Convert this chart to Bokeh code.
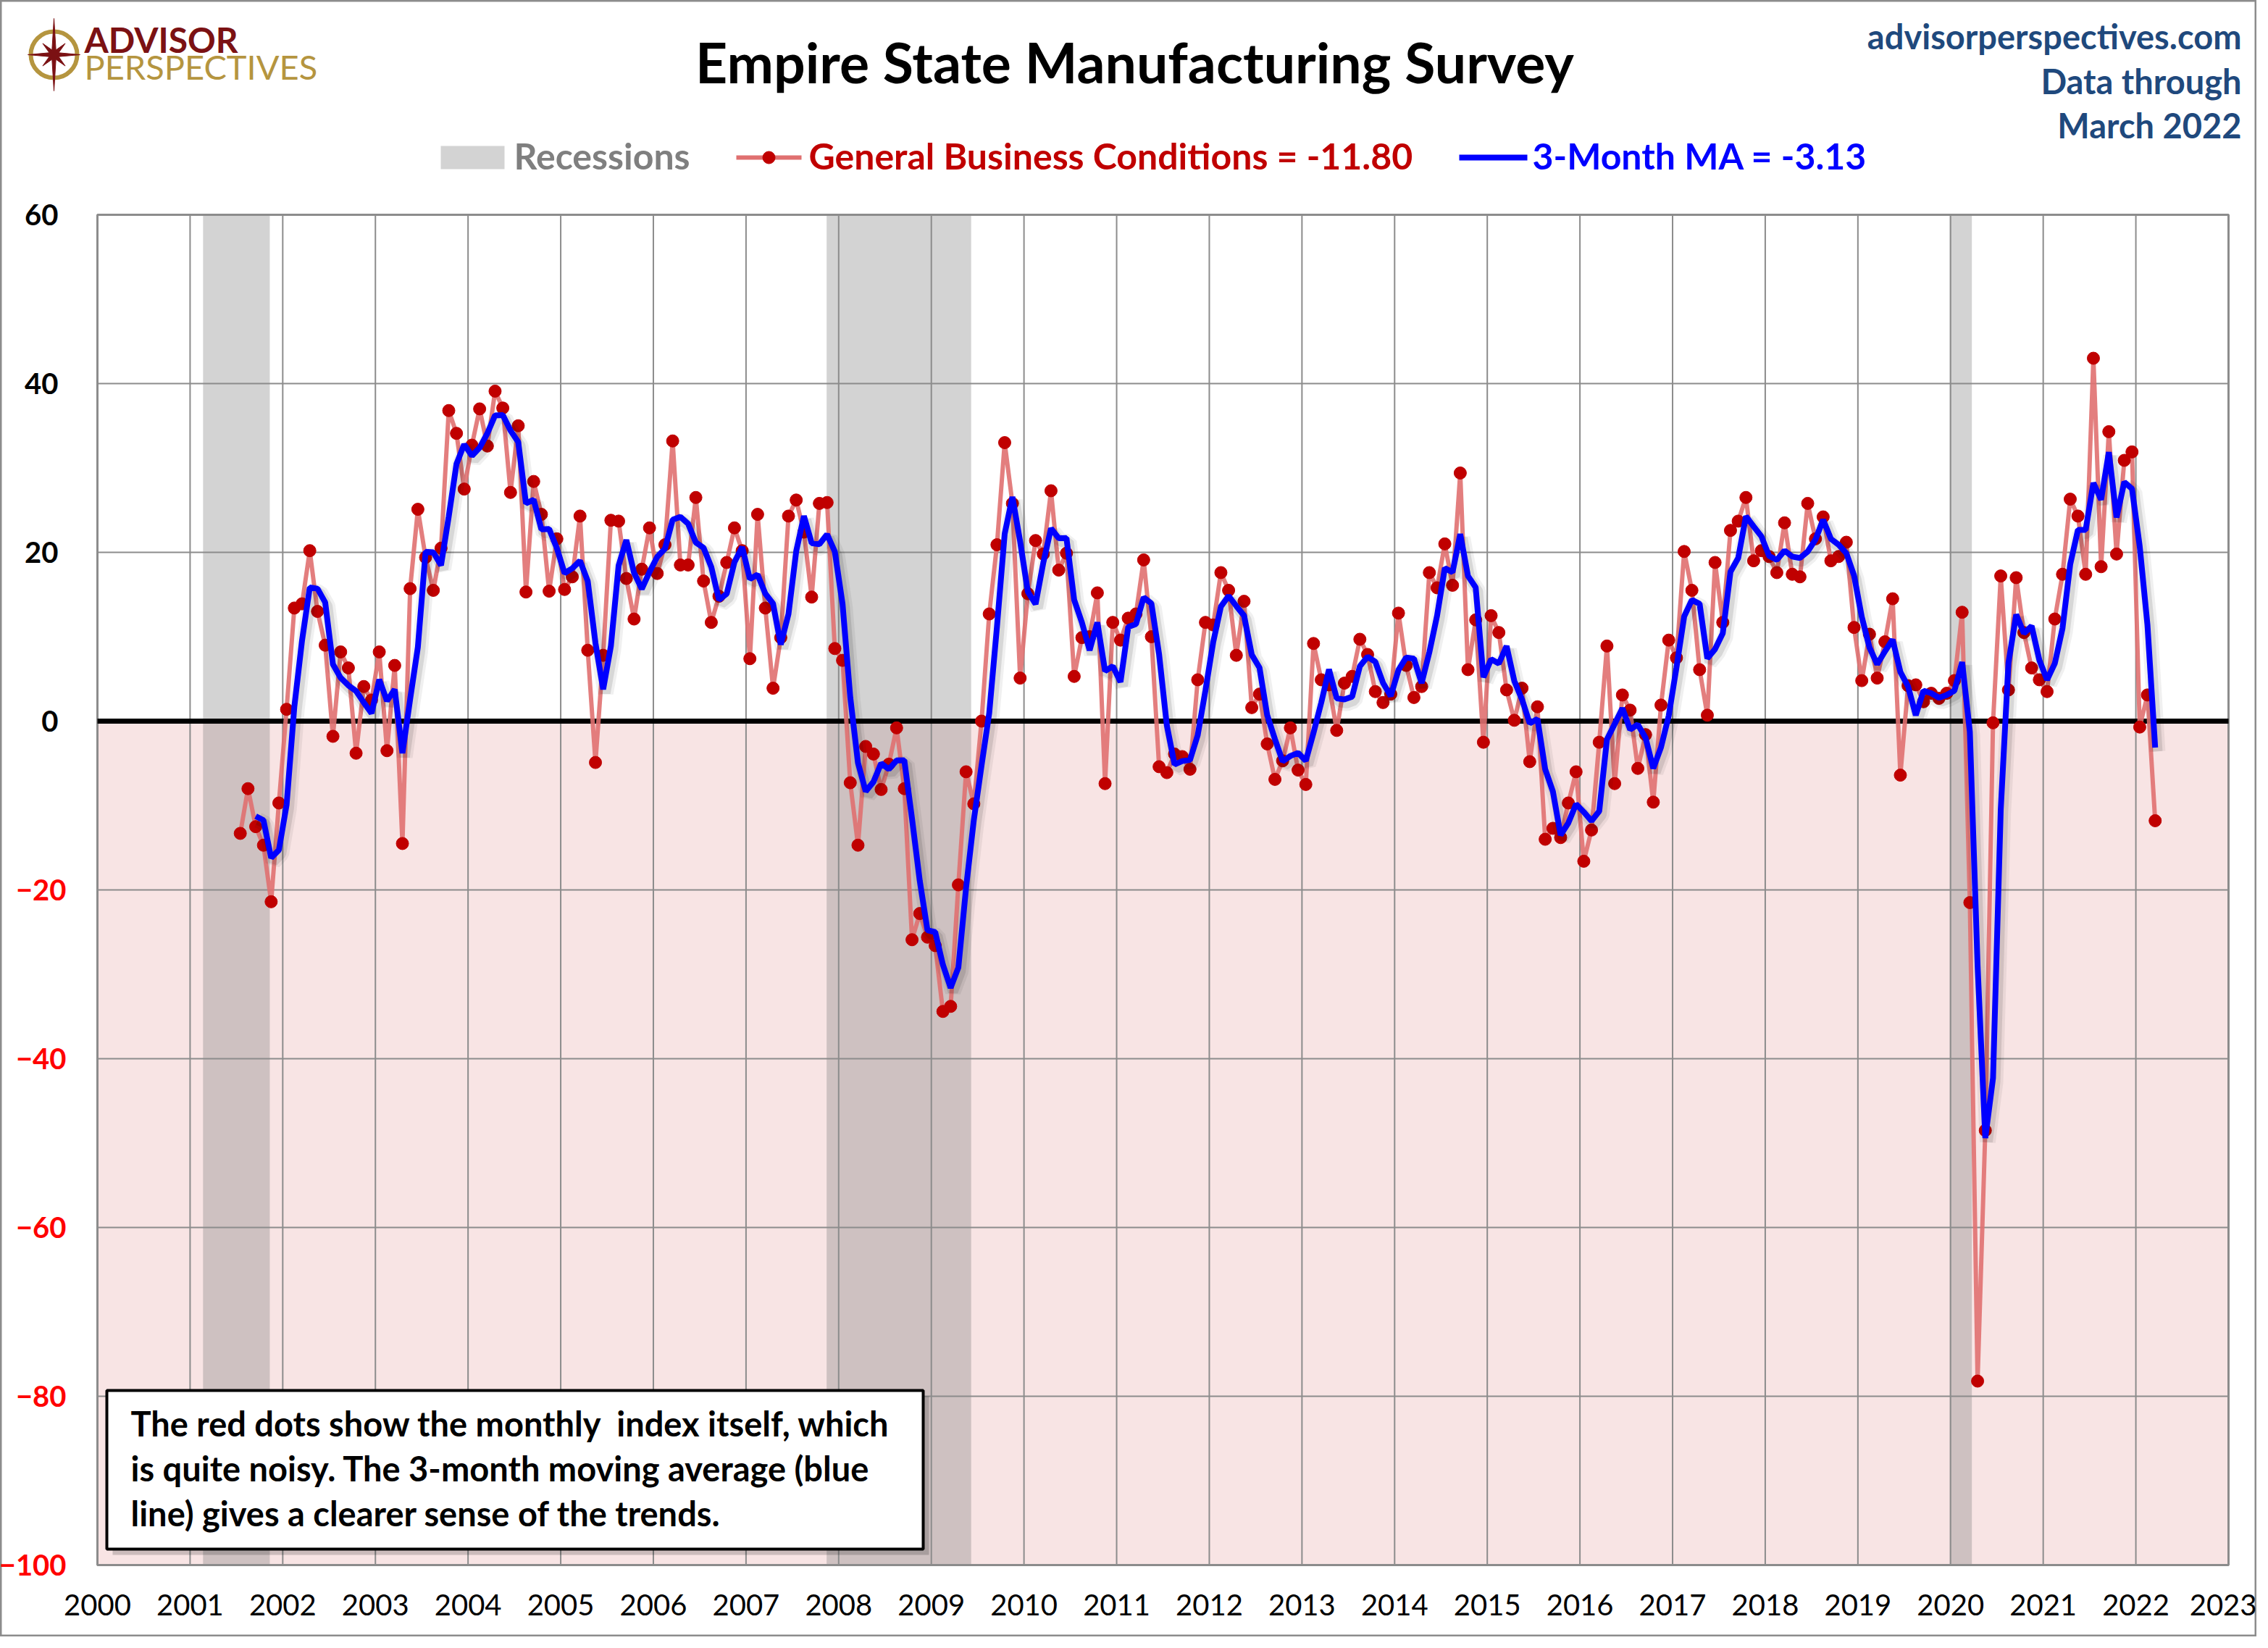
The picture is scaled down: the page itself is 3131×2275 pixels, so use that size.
import numpy as np
import pandas as pd

from bokeh.core.properties import value
from bokeh.embed import file_html
from bokeh.models import ColumnDataSource, FixedTicker, LinearAxis, Range1d
from bokeh.plotting import figure
from bokeh.resources import INLINE
from bokeh.transform import dodge

FONT = "Lato"

# Empire State General Business Conditions, monthly, Jul 2001 - Mar 2022
gbc_2001 = [-13.3, -8.0, -12.5, -14.7, -21.4, -9.7]
gbc_2002 = [1.4, 13.4, 13.9, 20.2, 13.0, 9.0, -1.8, 8.2, 6.3, -3.8, 4.1, 2.5]
gbc_2003 = [8.2, -3.5, 6.6, -14.5, 15.7, 25.1, 19.4, 15.5, 20.5, 36.8, 34.1, 27.5]
gbc_2004 = [32.7, 37.0, 32.6, 39.1, 37.1, 27.1, 35.0, 15.3, 28.4, 24.5, 15.4, 21.6]
gbc_2005 = [15.6, 17.1, 24.3, 8.4, -4.9, 7.8, 23.8, 23.7, 16.9, 12.1, 18.0, 22.9]
gbc_2006 = [17.5, 20.9, 33.2, 18.5, 18.5, 26.5, 16.6, 11.7, 14.8, 18.8, 22.9, 20.2]
gbc_2007 = [7.4, 24.5, 13.4, 3.9, 9.9, 24.3, 26.2, 22.4, 14.7, 25.8, 25.9, 8.6]
gbc_2008 = [7.2, -7.3, -14.7, -3.0, -3.9, -8.1, -5.1, -0.8, -8.0, -25.9, -22.8, -25.6]
gbc_2009 = [-26.6, -34.4, -33.8, -19.4, -6.0, -9.8, 0.0, 12.7, 20.9, 33.0, 25.8, 5.1]
gbc_2010 = [15.1, 21.4, 19.8, 27.3, 17.9, 19.9, 5.3, 9.9, 10.0, 15.2, -7.4, 11.7]
gbc_2011 = [9.6, 12.2, 12.7, 19.1, 10.0, -5.4, -6.1, -3.9, -4.2, -5.7, 4.9, 11.7]
gbc_2012 = [11.4, 17.6, 15.5, 7.8, 14.2, 1.6, 3.2, -2.7, -6.9, -4.7, -0.8, -5.8]
gbc_2013 = [-7.5, 9.2, 4.9, 4.3, -1.1, 4.5, 5.3, 9.7, 7.9, 3.5, 2.2, 3.2]
gbc_2014 = [12.8, 6.6, 2.8, 4.1, 17.6, 15.8, 21.0, 16.1, 29.4, 6.1, 12.0, -2.5]
gbc_2015 = [12.5, 10.5, 3.7, 0.1, 3.9, -4.8, 1.7, -14.0, -12.7, -13.8, -9.7, -6.0]
gbc_2016 = [-16.6, -12.9, -2.5, 8.9, -7.4, 3.1, 1.3, -5.6, -1.6, -9.6, 1.9, 9.6]
gbc_2017 = [7.5, 20.1, 15.5, 6.1, 0.7, 18.8, 11.7, 22.6, 23.7, 26.5, 19.0, 20.2]
gbc_2018 = [19.5, 17.6, 23.5, 17.4, 17.1, 25.8, 21.6, 24.2, 19.0, 19.5, 21.2, 11.1]
gbc_2019 = [4.8, 10.3, 5.1, 9.4, 14.5, -6.4, 4.2, 4.3, 2.3, 3.3, 2.7, 3.3]
gbc_2020 = [4.8, 12.9, -21.5, -78.2, -48.5, -0.2, 17.2, 3.7, 17.0, 10.5, 6.3, 4.9]
gbc_2021 = [3.5, 12.1, 17.4, 26.3, 24.3, 17.4, 43.0, 18.3, 34.3, 19.8, 30.9, 31.9]
gbc_2022 = [-0.7, 3.1, -11.8]

first_month = "2001-07"

# NBER recessions (decimal years, as shaded on the chart)
rec_start = [2001.14, 2007.87, 2019.99]
rec_end = [2001.86, 2009.43, 2020.23]

x_ticks = list(range(2000, 2024))
y_ticks = list(range(-100, 61, 20))

X0, X1, Y0, Y1 = 2000, 2023, -100, 60

# whole picture and the plot area inside it, in pixels
W, H = 3115, 2259
FL, FT, FW, FH = 134, 296, 2942, 1864


def at_x(px):
    return X0 + (np.asarray(px, dtype=float) - FL) / FW * (X1 - X0)


def at_y(py):
    return Y1 - (np.asarray(py, dtype=float) - FT) / FH * (Y1 - Y0)


gbc = (gbc_2001 + gbc_2002 + gbc_2003 + gbc_2004 + gbc_2005 + gbc_2006 + gbc_2007
       + gbc_2008 + gbc_2009 + gbc_2010 + gbc_2011 + gbc_2012 + gbc_2013 + gbc_2014
       + gbc_2015 + gbc_2016 + gbc_2017 + gbc_2018 + gbc_2019 + gbc_2020 + gbc_2021
       + gbc_2022)
months = pd.period_range(first_month, periods=len(gbc), freq="M")
df = pd.DataFrame({
    "x": months.year + (months.month - 0.5) / 12,
    "gbc": gbc,
})
df["ma"] = df["gbc"].rolling(3).mean()
src = ColumnDataSource(df)

# one canvas for the whole picture; the data ranges are stretched so that
# the plot area lands where the original has it
p = figure(
    frame_width=W,
    frame_height=H,
    min_border=0,
    x_range=Range1d(float(at_x(0)), float(at_x(W))),
    y_range=Range1d(float(at_y(H)), float(at_y(0))),
    x_axis_location=None,
    y_axis_location=None,
    toolbar_location=None,
    tools="",
    output_backend="svg",
    background_fill_color="white",
    border_fill_color="white",
    outline_line_color="#8c8c8c",
    outline_line_width=4,
)
p.grid.visible = False

# shading: negative band and recessions
p.quad(left=X0, right=X1, top=0, bottom=Y0, fill_color="#f8e4e4",
       line_color=None, level="image")
p.quad(left=rec_start, right=rec_end, top=Y1, bottom=Y0,
       fill_color="#828282", fill_alpha=0.35, line_color=None, level="image")

# grid, frame and zero line
p.segment(x0=x_ticks, y0=Y0, x1=x_ticks, y1=Y1, line_color="#8c8c8c",
          line_width=2, level="underlay")
p.segment(x0=X0, y0=y_ticks, x1=X1, y1=y_ticks, line_color="#8c8c8c",
          line_width=2, level="underlay")
p.quad(left=X0, right=X1, top=Y1, bottom=Y0, fill_color=None,
       line_color="#8c8c8c", line_width=3, level="underlay")
p.segment(x0=X0, y0=0, x1=X1, y1=0, line_color="black", line_width=7,
          level="underlay")

# data
p.line("x", "gbc", source=src, line_color="#e07070", line_width=6, line_alpha=0.9)
p.scatter("x", "gbc", source=src, size=17, fill_color="#c00000", line_color="#c00000")
for w, a in ((22, 0.06), (14, 0.10)):
    p.line(dodge("x", 0.025), dodge("ma", -0.45), source=src,
           line_color="black", line_width=w, line_alpha=a)
p.line("x", "ma", source=src, line_color="#0000ff", line_width=8)

# axes pinned to the plot area edges
pos_axis = LinearAxis(fixed_location=X0, ticker=FixedTicker(ticks=y_ticks),
                      major_label_overrides={t: "" for t in y_ticks if t < 0},
                      major_label_standoff=54, major_label_text_color="black")
neg_axis = LinearAxis(fixed_location=X0, ticker=FixedTicker(ticks=y_ticks),
                      major_label_overrides={t: "" for t in y_ticks if t >= 0},
                      major_label_standoff=43, major_label_text_color="#ff0000")
x_axis = LinearAxis(fixed_location=Y0, ticker=FixedTicker(ticks=x_ticks),
                    major_label_standoff=40, major_label_text_color="black")
for ax in (pos_axis, neg_axis, x_axis):
    ax.axis_line_color = None
    ax.major_tick_line_color = None
    ax.minor_tick_line_color = None
    ax.major_tick_out = 0
    ax.major_label_text_font = FONT
    ax.major_label_text_font_size = "40px"
pos_axis.major_label_text_font_style = "bold"
neg_axis.major_label_text_font_style = "bold"
p.add_layout(pos_axis, "left")
p.add_layout(neg_axis, "left")
p.add_layout(x_axis, "below")

# note box
p.quad(left=at_x(155), right=at_x(1282), top=at_y(1927), bottom=at_y(2146),
       fill_color="black", fill_alpha=0.18, line_color=None, level="overlay")
p.quad(left=at_x(147), right=at_x(1274), top=at_y(1919), bottom=at_y(2138),
       fill_color="white", line_color="black", line_width=4, level="overlay")
note = ["The red dots show the monthly \u00a0index itself, which",
        "is quite noisy. The 3-month moving average (blue",
        "line) gives a clearer sense of the trends."]
p.text(x=at_x([180, 180, 180]), y=at_y([1964, 2026, 2088]), text=note,
       text_baseline="middle", text_font=value(FONT), text_font_style="bold",
       text_font_size="47px", text_color="black", level="overlay")

# logo: gold ring and dark red compass star
k = np.arange(16)
ang = k * np.pi / 8
rad = np.where(k % 2 == 1, 7, np.where(k % 4 == 0, np.where(k % 8 == 0, 50, 36), 22))
p.scatter(at_x([74]), at_y([75]), marker="circle", size=64, fill_color=None,
          line_color="#b5953f", line_width=6)
p.patch(at_x(74 + rad * np.sin(ang)), at_y(75 - rad * np.cos(ang)),
        fill_color="#7b1113", line_color="#7b1113")
p.text(at_x([116]), at_y([54]), text=["ADVISOR"], text_font=value(FONT),
       text_font_style="bold", text_font_size="48px", text_baseline="middle",
       text_color="#7b1113")
p.text(at_x([116]), at_y([91]), text=["PERSPECTIVES"], text_font=value(FONT),
       text_font_size="47px", text_baseline="middle", text_color="#b5953f")

# titles
p.text(at_x([1566]), at_y([84]), text=["Empire State Manufacturing Survey"],
       text_align="center", text_baseline="middle", text_font=value(FONT),
       text_font_style="bold", text_font_size="77px", text_color="black")
p.text(at_x([3094, 3094, 3094]), at_y([49, 111, 172]),
       text=["advisorperspectives.com", "Data through", "March 2022"],
       text_align="right", text_baseline="middle", text_font=value(FONT),
       text_font_style="bold", text_font_size="47px", text_color="#1f497d")

# legend
LEG_Y = 217
p.rect(at_x([652]), at_y([LEG_Y]), width=88, height=32, width_units="screen",
       height_units="screen", fill_color="#d3d3d3", line_color=None)
p.line(at_x([1016, 1106]), at_y([LEG_Y, LEG_Y]), line_color="#e07070", line_width=6)
p.scatter(at_x([1061]), at_y([LEG_Y]), size=17, fill_color="#c00000",
          line_color="#c00000")
p.line(at_x([2014, 2108]), at_y([LEG_Y, LEG_Y]), line_color="#0000ff", line_width=8)
p.text(at_x([709, 1116, 2115]), at_y([LEG_Y - 3] * 3),
       text=["Recessions",
             f"General Business Conditions = {gbc[-1]:.2f}",
             f"3-Month MA = {df['ma'].iloc[-1]:.2f}"],
       text_baseline="middle", text_font=value(FONT), text_font_style="bold",
       text_font_size="50px", text_color=["#7f7f7f", "#c00000", "#0000ff"])

open("out.html", "w").write(file_html(p, INLINE))
